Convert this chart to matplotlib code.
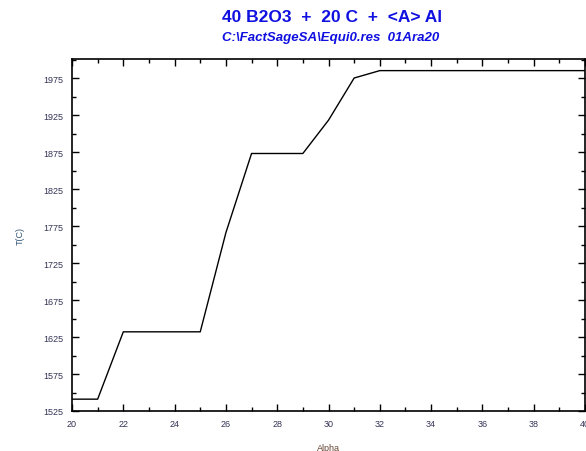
import matplotlib.pyplot as plt
from matplotlib.ticker import MultipleLocator

alpha = [20, 21, 22, 25, 26, 27, 29, 30, 31, 32, 40]
temp_c = [1541, 1541, 1632, 1632, 1766, 1873, 1873, 1918, 1975, 1985, 1985]

title = "40 B2O3  +  20 C  +  <A> Al"
subtitle = r"C:\FactSageSA\Equi0.res  01Ara20"

plt.rcParams['font.family'] = ['Liberation Sans', 'DejaVu Sans']

fig = plt.figure(figsize=(5.86, 4.52), dpi=100)
ax = fig.add_axes([72 / 586, 1 - 412 / 452, 513 / 586, 352 / 452])

ax.plot(alpha, temp_c, color='black', linewidth=1)

ax.set_xlim(20, 40)
ax.set_ylim(1525, 2000.7)
ax.xaxis.set_major_locator(MultipleLocator(2))
ax.xaxis.set_minor_locator(MultipleLocator(1))
ax.set_yticks(range(1525, 2000, 50))
ax.yaxis.set_minor_locator(MultipleLocator(25))
ax.tick_params(which='both', direction='in', top=True, right=True,
               labelsize=6.5, labelcolor='#333355', width=1)
ax.tick_params(which='major', length=5, pad=6)
ax.tick_params(which='minor', length=3)
for s in ax.spines.values():
    s.set_linewidth(1.2)

# titles
fig.text(222 / 586, 1 - 17 / 452, title, color='#1010e0', fontsize=12.5,
         fontweight='bold', ha='left', va='center')
fig.text(222 / 586, 1 - 38 / 452, subtitle, color='#1010e0', fontsize=9.5,
         fontweight='bold', style='italic', ha='left', va='center')

# axis labels
fig.text(20 / 586, 1 - 236 / 452, "T(C)", rotation=90, fontsize=6.5,
         color='#335577', ha='center', va='center')
fig.text(328 / 586, 1 - 449 / 452, "Alpha", fontsize=6.5,
         color='#664433', ha='center', va='center')

fig.savefig('out.png', dpi=100, facecolor='white')
